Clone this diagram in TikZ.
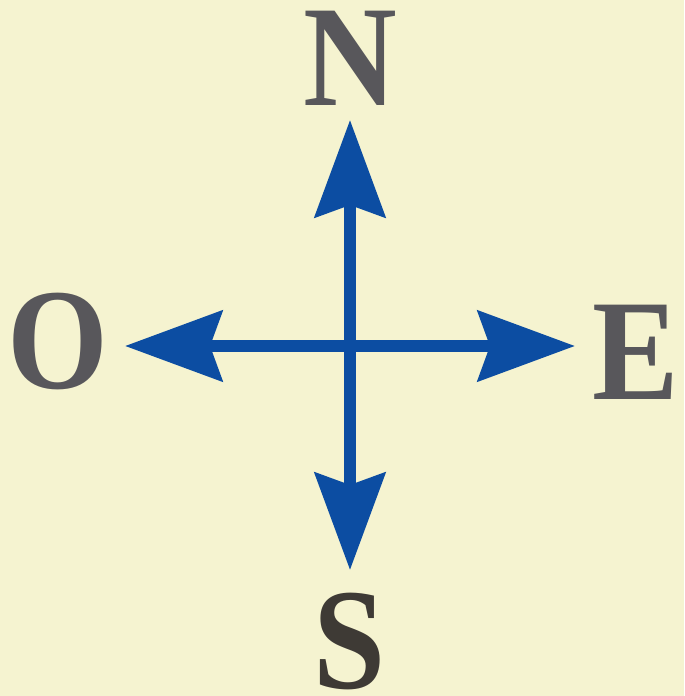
\documentclass[tikz,border=0pt]{standalone}
\usepackage{fontspec}
\setmainfont{Liberation Serif}
\usetikzlibrary{arrows.meta}
\definecolor{paper}{HTML}{F5F3D0}
\definecolor{compassblue}{HTML}{0C4DA2}
\definecolor{lettergray}{HTML}{58575B}
\definecolor{letterdark}{HTML}{3E3A35}

\begin{document}
\begin{tikzpicture}[
  dir/.style={inner sep=0pt,anchor=base,text=lettergray,xscale=0.9,
    text height=0.68em,text depth=0pt,
    font=\fontsize{41}{41}\selectfont\bfseries},
  arr/.style={draw=compassblue,line width=3.4pt,
    -{Stealth[length=9.7mm,width=7mm,inset=1.2mm]}}]
\fill[paper] (-3.50,-3.50) rectangle (3.34,3.46);
\useasboundingbox (-3.50,-3.50) rectangle (3.34,3.46);
\coordinate (c) at (0,0);
\coordinate (tn) at (0,2.26);
\coordinate (ts) at (0,-2.24);
\coordinate (te) at (2.25,0);
\coordinate (to) at (-2.25,0);
\node[dir] (n) at (0,2.40) {N};
\node[dir,text=letterdark] (s) at (0,-3.42) {S};
\node[dir] (e) at (2.86,-0.53) {E};
\node[dir] (o) at (-2.92,-0.42) {O};
\draw[arr] (c) -- (tn);
\draw[arr] (c) -- (ts);
\draw[arr] (c) -- (te);
\draw[arr] (c) -- (to);
\end{tikzpicture}
\end{document}
